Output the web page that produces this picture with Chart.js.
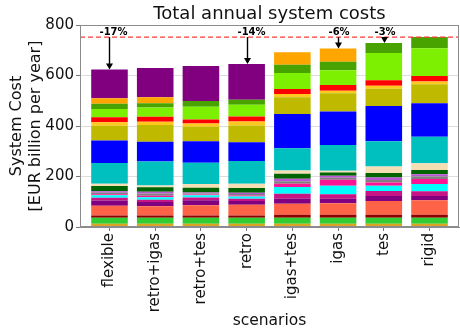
<!DOCTYPE html>
<html>
<head>
<meta charset="utf-8">
<script src="https://cdn.jsdelivr.net/npm/chart.js@4.4.0/dist/chart.umd.min.js"></script>
<style>
  html, body { margin: 0; padding: 0; background: #fff; }
</style>
</head>
<body>
<canvas id="costChart" width="460" height="329"></canvas>
<script>
const scenarios = ['flexible', 'retro+igas', 'retro+tes', 'retro', 'igas+tes', 'igas', 'tes', 'rigid'];
const annotated = ['flexible', 'retro', 'igas', 'tes'];

// cost components in EUR billion per year, listed bottom to top of the stack
const costGoldenrod = [13, 13, 13, 13, 13, 13, 13, 13];
const costLime      = [24, 24, 24, 24, 24, 24, 24, 24];
const costDarkred   = [9, 9, 9, 9, 12, 12, 12, 12];
const costTomato    = [38, 36, 40, 42, 43, 45, 54, 57];
const costPurple    = [21, 17, 20, 15, 20, 18, 20, 17];
const costVioletred = [11, 9, 11, 9, 20, 18, 20, 19];
const costCyan      = [10, 10, 9, 9, 26, 33, 20, 28];
const costDeeppink  = [4, 6, 3, 4, 13, 24, 13, 20];
const costGrey      = [6, 9, 4, 6, 10, 8, 10, 10];
const costOrchid    = [6, 7, 4, 5, 10, 8, 10, 9];
const costDarkgreen = [20, 17, 18, 18, 20, 13, 18, 17];
const costWheat     = [9, 7, 15, 17, 13, 7, 26, 26];
const costTeal      = [82, 95, 84, 90, 88, 102, 100, 105];
const costBlue      = [90, 79, 86, 75, 136, 132, 139, 133];
const costOlive     = [58, 66, 57, 66, 66, 73, 69, 75];
const costGold      = [14, 13, 13, 16, 13, 10, 11, 11];
const costRed       = [20, 20, 16, 20, 20, 22, 22, 22];
const costLawngreen = [32, 36, 50, 46, 63, 59, 108, 110];
const costGreen     = [21, 17, 23, 20, 33, 33, 40, 44];
const costOrange    = [22, 24, 0, 0, 49, 53, 0, 0];
const costTopPurple = [114, 116, 139, 142, 0, 0, 0, 0];

const yTicks = [0, 200, 400, 600, 800];

const components = [
    [costGoldenrod, '#DAA520'], [costLime, '#32CD32'], [costDarkred, '#8B0000'],
    [costTomato, '#FF6347'], [costPurple, '#800080'], [costVioletred, '#C71585'],
    [costCyan, '#00FFFF'], [costDeeppink, '#FF1493'], [costGrey, '#808080'],
    [costOrchid, '#BA55D3'], [costDarkgreen, '#006400'], [costWheat, '#F5DEB3'],
    [costTeal, '#00BFBF'], [costBlue, '#0000FF'], [costOlive, '#BFBA00'],
    [costGold, '#FFC81E'], [costRed, '#FF0000'], [costLawngreen, '#7CF000'],
    [costGreen, '#48A300'], [costOrange, '#FFA500'], [costTopPurple, '#800080']
];

const totals = scenarios.map((_, i) => components.reduce((s, c) => s + c[0][i], 0));

const font = '"DejaVu Sans", sans-serif';

// title, reference line, arrows with percentages, box around the plot
const decorations = {
    id: 'decorations',
    afterDatasetsDraw(chart) {
        const { ctx, chartArea: a, scales: { x, y } } = chart;
        const ref = totals[totals.length - 1];
        const yRef = y.getPixelForValue(ref);
        ctx.save();
        ctx.strokeStyle = '#ff3b3b';
        ctx.lineWidth = 1.3;
        ctx.setLineDash([5, 3]);
        ctx.beginPath();
        ctx.moveTo(a.left, yRef);
        ctx.lineTo(a.right, yRef);
        ctx.stroke();
        ctx.setLineDash([]);

        ctx.strokeStyle = '#000';
        ctx.fillStyle = '#000';
        ctx.lineWidth = 1.4;
        ctx.font = 'bold 10px ' + font;
        ctx.textAlign = 'left';
        ctx.textBaseline = 'alphabetic';
        annotated.forEach(name => {
            const i = scenarios.indexOf(name);
            const px = Math.round(x.getPixelForValue(i)) + 0.5;
            const yTop = y.getPixelForValue(totals[i]);
            ctx.beginPath();
            ctx.moveTo(px, yRef);
            ctx.lineTo(px, yTop - 5);
            ctx.stroke();
            ctx.beginPath();
            ctx.moveTo(px - 3.5, yTop - 6);
            ctx.lineTo(px + 3.5, yTop - 6);
            ctx.lineTo(px, yTop);
            ctx.closePath();
            ctx.fill();
            const pct = Math.round((totals[i] / ref - 1) * 100);
            ctx.fillText(pct + '%', px - 10, yRef - 2);
        });

        ctx.strokeStyle = '#8c8c8c';
        ctx.lineWidth = 1;
        ctx.strokeRect(a.left + 0.5, a.top + 0.5, a.width - 1, a.height - 1);

        ctx.fillStyle = '#111';
        ctx.font = '18px ' + font;
        ctx.textAlign = 'center';
        ctx.fillText('Total annual system costs', (a.left + a.right) / 2, 19);
        ctx.restore();
    }
};

new Chart(document.getElementById('costChart'), {
    type: 'bar',
    data: {
        datasets: components.map(([vals, color]) => ({
            data: vals.map((v, i) => ({ x: i, y: v })),
            backgroundColor: color,
            borderWidth: 0,
            barPercentage: 0.8,
            categoryPercentage: 1
        }))
    },
    options: {
        responsive: false,
        animation: false,
        layout: { padding: { top: 25, right: 1, bottom: 0, left: 0 } },
        plugins: { legend: { display: false }, tooltip: { enabled: false } },
        scales: {
            x: {
                type: 'linear',
                offset: false,
                stacked: true,
                min: -0.645,
                max: scenarios.length - 1 + 0.645,
                afterBuildTicks: axis => { axis.ticks = scenarios.map((_, i) => ({ value: i })); },
                afterFit: axis => {
                    axis.height = 102;
                    axis.paddingLeft = 0;
                    axis.paddingRight = 0;
                },
                grid: { offset: false, drawOnChartArea: false, tickLength: 4, tickColor: '#777' },
                border: { color: '#8c8c8c' },
                ticks: {
                    autoSkip: false,
                    minRotation: 90,
                    maxRotation: 90,
                    padding: 2,
                    color: '#111',
                    font: { family: font, size: 15 },
                    callback: v => scenarios[v]
                },
                title: {
                    display: true,
                    text: 'scenarios',
                    color: '#111',
                    padding: 0,
                    font: { family: font, size: 15.5, lineHeight: 1 }
                }
            },
            y: {
                stacked: true,
                min: 0,
                max: 800,
                afterBuildTicks: axis => { axis.ticks = yTicks.map(v => ({ value: v })); },
                afterFit: axis => {
                    axis.width = 80;
                    axis.paddingTop = 0;
                    axis.paddingBottom = 0;
                },
                grid: { color: '#dddddd', tickLength: 4, tickColor: '#777' },
                border: { color: '#8c8c8c' },
                ticks: { padding: 2, color: '#111', font: { family: font, size: 15 } },
                title: {
                    display: true,
                    text: ['System Cost', '[EUR billion per year]'],
                    color: '#111',
                    padding: { top: 8, bottom: 0 },
                    font: { family: font, size: 16, lineHeight: 1.15 }
                }
            }
        }
    },
    plugins: [decorations]
});
</script>
</body>
</html>
